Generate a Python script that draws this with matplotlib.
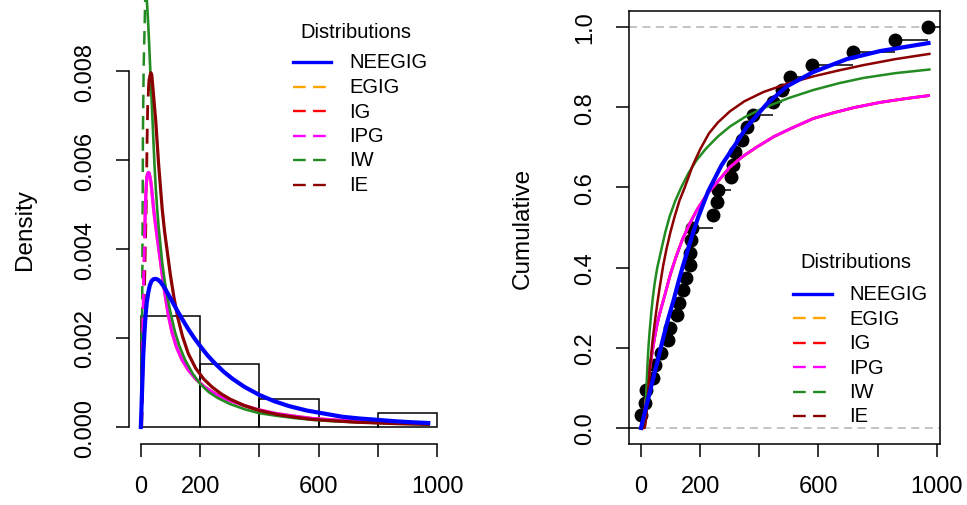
import numpy as np
import matplotlib.pyplot as plt
from matplotlib.lines import Line2D

plt.rcParams['font.family'] = ['Liberation Sans', 'DejaVu Sans']

W, H = 967, 506

obs = [1, 13, 18, 40, 46, 66, 91, 97, 121, 129, 142, 153, 164, 167, 170, 173,
       244, 258, 262, 303, 311, 319, 340, 357, 380, 447, 476, 504, 577, 718,
       859, 972]
hist_breaks = [0, 200, 400, 600, 800, 1000]

dist_names = ['NEEGIG', 'EGIG', 'IG', 'IPG', 'IW', 'IE']
dist_colors = ['blue', 'orange', 'red', 'magenta', 'forestgreen', 'darkred']

# fitted densities (left panel)
neegig_pdf_x = [0, 2, 5, 8, 12, 16, 20, 25, 30, 36, 42, 50, 58, 66, 75, 85, 95,
                110, 125, 140, 160, 180, 200, 225, 250, 280, 310, 350, 400,
                450, 500, 560, 620, 680, 740, 800, 860, 920, 970]
neegig_pdf_y = [0, 0.0004, 0.001, 0.0016, 0.0021, 0.00252, 0.0028, 0.00302,
                0.00318, 0.00328, 0.00332, 0.00333, 0.00331, 0.00326, 0.00318,
                0.00307, 0.00295, 0.00277, 0.00259, 0.00242, 0.0022, 0.002,
                0.00182, 0.00161, 0.00143, 0.00124, 0.00108, 0.0009, 0.00072,
                0.00058, 0.00047, 0.00037, 0.0003, 0.00023, 0.00019, 0.00016,
                0.000128, 0.000105, 0.00009]

ipg_pdf_x = [14, 16, 18, 20, 22, 24, 26, 28, 31, 34, 38, 43, 48, 54, 60, 66,
             74, 82, 92, 105, 120, 139, 160, 185, 215, 250, 290, 340, 390, 450,
             510, 580, 650, 720, 800, 880, 970]
ipg_pdf_y = [0.0046, 0.0051, 0.0054, 0.00558, 0.00567, 0.00571, 0.00572,
             0.0057, 0.00562, 0.0055, 0.00525, 0.0049, 0.00462, 0.00432,
             0.00402, 0.00372, 0.00333, 0.00296, 0.00254, 0.00213, 0.0018,
             0.00151, 0.00128, 0.00108, 0.0009, 0.00075, 0.00062, 0.0005,
             0.0004, 0.00031, 0.00025, 0.00019, 0.00016, 0.000135, 0.000112,
             0.000092, 0.000075]
ipg_pdf_dash_x = [2, 5, 8, 11, 13, 15, 17]
ipg_pdf_dash_y = [0, 0.0012, 0.0027, 0.0038, 0.0043, 0.00475, 0.00527]

iw_pdf_x = [19, 22, 26, 30, 34, 38, 42, 46, 50, 55, 60, 66, 72, 80, 90, 100,
            115, 130, 150, 175, 200, 230, 260, 300, 350, 400, 460, 520, 580,
            650, 720, 800, 880, 970]
iw_pdf_y = [0.0097, 0.0094, 0.0089, 0.0083, 0.0077, 0.0071, 0.0065, 0.0059,
            0.0054, 0.0049, 0.0045, 0.0041, 0.0037, 0.0033, 0.0029, 0.00257,
            0.00214, 0.00182, 0.0015, 0.0012, 0.00097, 0.00078, 0.00065,
            0.00052, 0.0004, 0.00031, 0.00025, 0.0002, 0.00016, 0.00013,
            0.00011, 0.00009, 0.000075, 0.00006]
iw_pdf_dash_x = [1.5, 3, 4.5, 6, 7, 9.5, 12, 15]
iw_pdf_dash_y = [0, 0.0012, 0.0027, 0.0047, 0.0066, 0.0081, 0.0088, 0.0097]

ie_pdf_x = [26, 28, 31, 34, 37, 41, 46, 50, 54, 60, 66, 72, 80, 90, 100, 112,
            125, 140, 160, 185, 212, 240, 270, 300, 350, 400, 460, 520, 580,
            650, 720, 800, 880, 970]
ie_pdf_y = [0.0076, 0.0078, 0.0079, 0.00796, 0.0079, 0.0076, 0.0072, 0.0069,
            0.0065, 0.0059, 0.0054, 0.0049, 0.0044, 0.0039, 0.0034, 0.0029,
            0.00245, 0.00205, 0.00165, 0.00132, 0.00108, 0.0009, 0.00075,
            0.00063, 0.00048, 0.00037, 0.00028, 0.00022, 0.00017, 0.00014,
            0.00011, 0.00009, 0.000072, 0.00006]
ie_pdf_dash_x = [3, 6, 9, 12, 15, 18, 20.5, 23, 26]
ie_pdf_dash_y = [0, 0.001, 0.002, 0.003, 0.004, 0.0049, 0.0062, 0.0072, 0.0076]

# fitted cdfs (right panel)
neegig_cdf_x = [0, 10, 20, 35, 50, 63, 77, 91, 110, 125, 142, 159, 176, 193,
                227, 272, 317, 357, 425, 493, 583, 696, 808, 972]
neegig_cdf_y = [0, 0.03, 0.06, 0.105, 0.15, 0.188, 0.23, 0.27, 0.318, 0.36,
                0.405, 0.446, 0.487, 0.525, 0.59, 0.655, 0.705, 0.75, 0.808,
                0.852, 0.888, 0.92, 0.94, 0.96]

ipg_cdf_x = [0, 5, 9, 13, 18, 24, 30, 38, 46, 55, 63, 80, 100, 120, 140, 165,
             190, 225, 260, 300, 340, 390, 450, 510, 583, 650, 720, 808, 890,
             972]
ipg_cdf_y = [0, 0, 0.015, 0.04, 0.075, 0.115, 0.15, 0.19, 0.225, 0.26, 0.285,
             0.33, 0.385, 0.43, 0.47, 0.51, 0.545, 0.585, 0.615, 0.65, 0.675,
             0.7, 0.727, 0.748, 0.772, 0.786, 0.799, 0.812, 0.821, 0.829]

iw_cdf_x = [0, 10, 13, 16, 19, 22, 25, 29, 35, 40, 46, 55, 69, 82, 97, 115,
            136, 160, 188, 220, 260, 301, 350, 414, 500, 583, 670, 752, 860,
            975]
iw_cdf_y = [0, 0, 0.02, 0.06, 0.11, 0.16, 0.2, 0.24, 0.29, 0.325, 0.36, 0.4,
            0.446, 0.488, 0.528, 0.565, 0.6, 0.635, 0.668, 0.697, 0.727,
            0.752, 0.775, 0.798, 0.823, 0.843, 0.86, 0.873, 0.885, 0.894]

ie_cdf_x = [0, 12, 15, 18, 21, 24, 27, 30, 34, 38, 46, 55, 63, 75, 86, 100,
            114, 130, 148, 175, 200, 230, 260, 301, 350, 414, 500, 583, 670,
            752, 860, 975]
ie_cdf_y = [0, 0, 0.01, 0.03, 0.06, 0.09, 0.12, 0.15, 0.18, 0.21, 0.26, 0.31,
            0.35, 0.405, 0.446, 0.49, 0.528, 0.567, 0.6, 0.655, 0.695, 0.735,
            0.762, 0.79, 0.815, 0.838, 0.86, 0.877, 0.892, 0.905, 0.92, 0.933]

dash = (0, (5.4, 3.1))
xticks = [0, 200, 400, 600, 800, 1000]
xtick_labels = ['0', '200', '', '600', '', '1000']


def draw_legend(fig, title_xy, row0, line_x, text_x, step=24.5):
    fig.text(title_xy[0] / W, 1 - title_xy[1] / H, 'Distributions',
             ha='center', va='center', fontsize=14.5)
    for i, (name, col) in enumerate(zip(dist_names, dist_colors)):
        y = 1 - (row0 + i * step) / H
        if i == 0:
            ls, lw = '-', 2.4
        else:
            ls, lw = dash, 1.7
        fig.add_artist(Line2D([line_x[0] / W, line_x[1] / W], [y, y],
                              color=col, lw=lw, ls=ls,
                              transform=fig.transFigure))
        fig.text(text_x / W, y, name, ha='left', va='center', fontsize=14.5)


fig = plt.figure(figsize=(W / 100, H / 100), dpi=100)

# ---- left panel: histogram + densities
ax1 = fig.add_axes([129 / W, 1 - 445 / H, 320 / W, 445 / H])
ax1.hist(obs, bins=hist_breaks, density=True, fill=False, edgecolor='black',
         linewidth=1.1)
ax1.plot(iw_pdf_dash_x, iw_pdf_dash_y, color='forestgreen', lw=1.8, ls=dash)
ax1.plot(ie_pdf_dash_x, ie_pdf_dash_y, color='darkred', lw=2.0, ls=dash)
ax1.plot(ipg_pdf_dash_x, ipg_pdf_dash_y, color='red', lw=2.0, ls=dash)
ax1.plot(ipg_pdf_dash_x, ipg_pdf_dash_y, color='magenta', lw=2.0, ls=dash)
ax1.plot(ipg_pdf_x, ipg_pdf_y, color='orange', lw=2.3)
ax1.plot(ipg_pdf_x, ipg_pdf_y, color='magenta', lw=2.3)
ax1.plot(iw_pdf_x, iw_pdf_y, color='forestgreen', lw=1.9)
ax1.plot(ie_pdf_x, ie_pdf_y, color='darkred', lw=2.3)
ax1.plot(neegig_pdf_x, neegig_pdf_y, color='blue', lw=3.0)

ax1.set_xlim(-40, 1040)
ax1.set_ylim(-17 / 44500, 428 / 44500)
ax1.spines['top'].set_visible(False)
ax1.spines['right'].set_visible(False)
ax1.spines['left'].set_bounds(0, 0.008)
ax1.spines['bottom'].set_bounds(0, 1000)
ax1.set_xticks(xticks)
ax1.set_xticklabels(xtick_labels)
ax1.set_yticks([0, 0.002, 0.004, 0.006, 0.008])
ax1.set_yticklabels(['0.000', '0.002', '0.004', '0.006', '0.008'],
                    rotation=90, va='center')
ax1.text(-0.325, 0.485, 'Density', transform=ax1.transAxes, rotation=90,
         ha='center', va='center', fontsize=17.5)

# ---- right panel: ecdf + cdfs
ax2 = fig.add_axes([629 / W, 1 - 445 / H, 311 / W, 433 / H])
x_lo, x_hi = -40.6, 1011
ax2.axhline(0, color='#b3b3b3', lw=1.1, ls=(0, (5.2, 3.6)))
ax2.axhline(1, color='#b3b3b3', lw=1.1, ls=(0, (5.2, 3.6)))
n = len(obs)
ecdf_y = np.arange(1, n + 1) / n
ax2.hlines(np.concatenate([[0], ecdf_y]), [x_lo] + obs, obs + [x_hi],
           color='black', lw=1.1)
ax2.plot(obs, ecdf_y, 'o', color='black', ms=9)
ax2.plot(ipg_cdf_x, ipg_cdf_y, color='orange', lw=2.0)
ax2.plot(ipg_cdf_x, ipg_cdf_y, color='red', lw=2.0)
ax2.plot(ipg_cdf_x, ipg_cdf_y, color='magenta', lw=2.0)
ax2.plot(iw_cdf_x, iw_cdf_y, color='forestgreen', lw=1.8)
ax2.plot(ie_cdf_x, ie_cdf_y, color='darkred', lw=1.8)
ax2.plot(neegig_cdf_x, neegig_cdf_y, color='blue', lw=3.0)

ax2.set_xlim(x_lo, x_hi)
ax2.set_ylim(-0.04, 1.04)
ax2.set_xticks(xticks)
ax2.set_xticklabels(xtick_labels)
ax2.set_yticks([0, 0.2, 0.4, 0.6, 0.8, 1.0])
ax2.set_yticklabels(['0.0', '0.2', '0.4', '0.6', '0.8', '1.0'],
                    rotation=90, va='center')
ax2.text(-0.341, 0.501, 'Cumulative', transform=ax2.transAxes, rotation=90,
         ha='center', va='center', fontsize=17.5)

for ax in (ax1, ax2):
    for sp in ax.spines.values():
        sp.set_linewidth(1.1)
    ax.tick_params(direction='out', length=9.4, width=1.1, labelsize=17)
    ax.tick_params(axis='y', pad=14.5)
    ax.tick_params(axis='x', pad=13)

draw_legend(fig, (356, 33), 63, (293, 331), 349)
draw_legend(fig, (856, 263), 295, (793, 832), 849, step=24.4)

fig.savefig('out.png', dpi=100)
